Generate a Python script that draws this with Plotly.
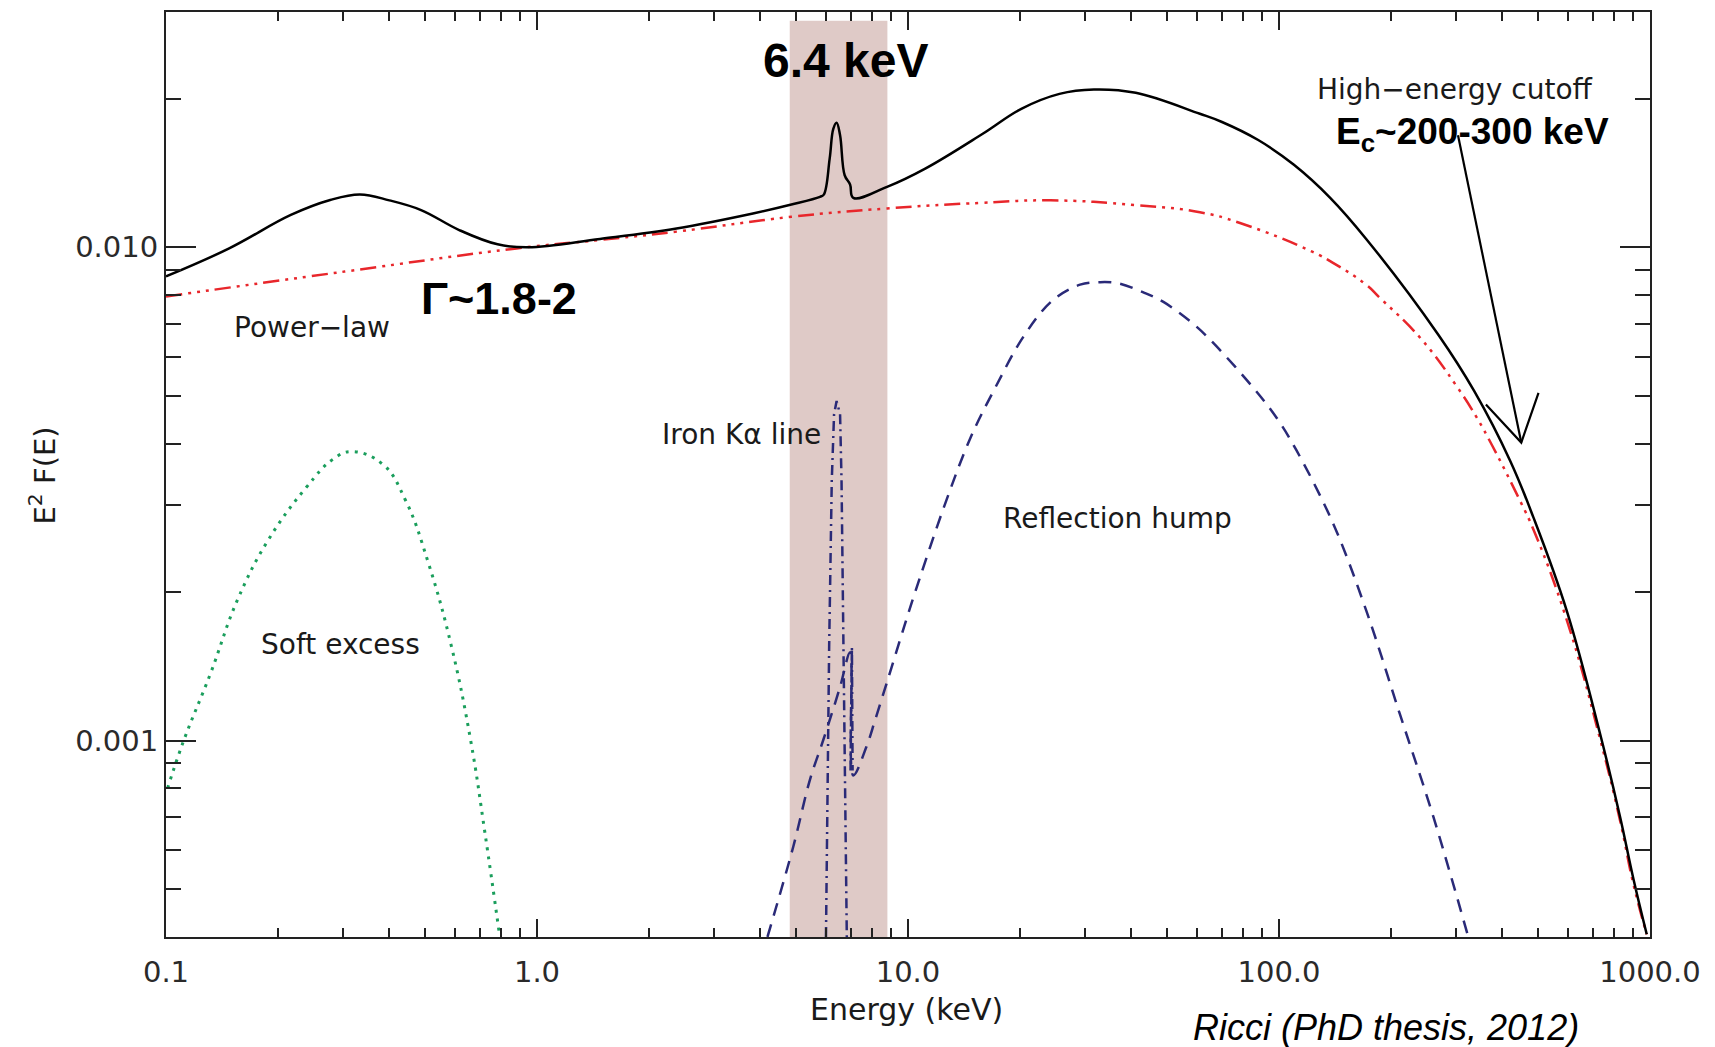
import plotly.graph_objects as go

# ---------------- data ----------------
energy_total = [0.1, 0.148, 0.217, 0.277, 0.333, 0.40, 0.487, 0.617, 0.783, 0.946, 1.478,
                2.377, 3.82, 4.85, 5.79, 5.93, 6.15, 6.29, 6.42, 6.56, 6.75, 6.98, 7.12,
                8.78, 11.13, 15.9, 20.2, 25.6, 31.7, 41.1, 61.2, 70.2, 87.9, 109.7, 137.4, 171.8,
                268.8, 336, 420, 485, 596, 733, 830, 902, 980]
flux_total = [0.00873, 0.00995, 0.01163, 0.01247, 0.01280, 0.01245, 0.01190, 0.01084, 0.01014,
              0.01000, 0.01040, 0.01092, 0.01171, 0.01221, 0.01266, 0.01279, 0.01513, 0.01739,
              0.01789, 0.01687, 0.01400, 0.01341, 0.01260, 0.01326, 0.01444, 0.01699, 0.01909,
              0.02047, 0.02089, 0.02057, 0.01865, 0.01795, 0.01650, 0.01470, 0.01260, 0.01040,
              0.00665, 0.00511, 0.00369, 0.002835, 0.001837, 0.001035, 0.000702, 0.000525, 0.000405]

energy_pl = [0.1, 0.303, 0.881, 1.478, 2.377, 4.85, 8.78, 15.9, 24.2, 41.1, 61.2, 78.5, 122.9,
             139.8, 171.8, 187, 240.4, 300.6, 341, 375.8, 449.6, 485, 596, 733, 830, 902, 980]
flux_pl = [0.00795, 0.00893, 0.00995, 0.01035, 0.01076, 0.01153, 0.01199, 0.01231, 0.01245,
           0.01218, 0.01178, 0.01120, 0.00980, 0.00930, 0.00840, 0.00790, 0.00655, 0.00524,
           0.00452, 0.00396, 0.00303, 0.00268, 0.00176, 0.00101, 0.00069, 0.000512, 0.000405]

energy_soft = [0.101, 0.1116, 0.1318, 0.1556, 0.1882, 0.2387, 0.2819, 0.316, 0.3838, 0.4428,
               0.5104, 0.5886, 0.6627, 0.724, 0.792]
flux_soft = [0.000801, 0.001, 0.001368, 0.001924, 0.002544, 0.003259, 0.00372, 0.003854,
             0.003634, 0.003064, 0.002283, 0.001548, 0.001, 0.00065, 0.000405]

energy_refl = [4.18, 4.91, 5.44, 5.91, 6.56, 6.98, 7.12, 7.73, 8.15, 8.76, 9.51, 10.28, 12.49,
               14.74, 17.2, 20.5, 24.5, 29.1, 33.0, 37.0, 43.1, 48.8, 58.7, 66.5, 85.3, 98.6,
               111.6, 140.1, 171.8, 211.9, 260.5, 323.8]
flux_refl = [0.0004, 0.000611, 0.000833, 0.001003, 0.001285, 0.001511, 0.00085, 0.000973,
             0.0011, 0.001308, 0.001597, 0.001924, 0.00297, 0.004112, 0.0052, 0.0066, 0.0078,
             0.0084, 0.0085, 0.00845, 0.0081, 0.00775, 0.0070, 0.0064, 0.00519, 0.00451,
             0.00387, 0.00275, 0.001837, 0.00113, 0.000702, 0.0004]

energy_fe = [6.01, 6.13, 6.23, 6.32, 6.42, 6.56, 6.62, 6.69, 6.84]
flux_fe = [0.0004, 0.00155, 0.00336, 0.00459, 0.00488, 0.00459, 0.00336, 0.00155, 0.0004]

energy_kb = [7.0, 7.06, 7.09]
flux_kb = [0.00087, 0.00155, 0.00087]

band_energy = [4.8, 8.8]
band_flux = [0.0004, 0.0288]

arrow_energy = [303.7, 449.8, None, 361.2, 449.8, 500.6]
arrow_flux = [0.01687, 0.00402, None, 0.0048, 0.00402, 0.00507]

x_tickvals = [0.1, 1, 10, 100, 1000]
x_ticktext = ["0.1", "1.0", "10.0", "100.0", "1000.0"]
x_minor = [m * d for d in [0.1, 1, 10, 100] for m in range(2, 10)]
y_tickvals = [0.001, 0.01]
y_ticktext = ["0.001", "0.010"]
y_minor = [0.0004, 0.0005, 0.0006, 0.0007, 0.0008, 0.0009] + \
          [m * 0.001 for m in range(2, 10)] + [0.02, 0.03]

# ---------------- figure ----------------
RED = "#e8262b"
NAVY = "#2a2a78"
GREEN = "#1a9e5c"
BAND = "#dfcac7"

fig = go.Figure()

fig.add_trace(go.Scatter(
    x=[band_energy[0], band_energy[1], band_energy[1], band_energy[0], band_energy[0]],
    y=[band_flux[0], band_flux[0], band_flux[1], band_flux[1], band_flux[0]],
    fill="toself", fillcolor=BAND, line=dict(width=0), mode="lines", hoverinfo="skip"))

fig.add_trace(go.Scatter(x=energy_soft, y=flux_soft, mode="lines",
                         line=dict(color=GREEN, width=3, dash="3px,6px", shape="spline", smoothing=1.2)))
fig.add_trace(go.Scatter(x=energy_refl, y=flux_refl, mode="lines",
                         line=dict(color=NAVY, width=2.5, dash="13px,9px", shape="spline", smoothing=1.0)))
fig.add_trace(go.Scatter(x=energy_fe, y=flux_fe, mode="lines",
                         line=dict(color=NAVY, width=2.5, dash="10px,5px,2px,5px")))
fig.add_trace(go.Scatter(x=energy_kb, y=flux_kb, mode="lines",
                         line=dict(color=NAVY, width=2.5, dash="10px,5px,2px,5px")))
fig.add_trace(go.Scatter(x=energy_pl, y=flux_pl, mode="lines",
                         line=dict(color=RED, width=2.5, dash="16px,6px,3px,6px,3px,6px,3px,6px",
                                   shape="spline", smoothing=1.3)))
fig.add_trace(go.Scatter(x=energy_total, y=flux_total, mode="lines",
                         line=dict(color="black", width=2.5, shape="spline", smoothing=1.1)))
fig.add_trace(go.Scatter(x=arrow_energy, y=arrow_flux, mode="lines",
                         line=dict(color="black", width=2.2), connectgaps=False))

AX = "#222222"
TICKFONT = dict(family="DejaVu Sans", size=29, color="#2a2a2a")

fig.update_xaxes(
    type="log", range=[-1, 3], showgrid=False, zeroline=False,
    showline=True, linecolor=AX, linewidth=2, mirror="allticks",
    ticks="inside", ticklen=18, tickwidth=2, tickcolor=AX,
    tickvals=x_tickvals, ticktext=x_ticktext, tickfont=TICKFONT, ticklabelstandoff=8,
    minor=dict(tickvals=x_minor, ticks="inside", ticklen=9, tickwidth=2, tickcolor=AX, showgrid=False),
)
fig.update_yaxes(
    type="log", range=[-3.398, -1.523], showgrid=False, zeroline=False,
    showline=True, linecolor=AX, linewidth=2, mirror="allticks",
    ticks="inside", ticklen=30, tickwidth=2, tickcolor=AX,
    tickvals=y_tickvals, ticktext=y_ticktext, tickfont=TICKFONT,
    minor=dict(tickvals=y_minor, ticks="inside", ticklen=15, tickwidth=2, tickcolor=AX, showgrid=False),
)

LABEL = dict(family="DejaVu Sans", size=28, color="#1a1a1a")
BOLD = "Liberation Sans"

def ann(text, x, y, font, angle=0):
    fig.add_annotation(text=text, x=x, y=y, xref="paper", yref="paper",
                       showarrow=False, xanchor="center", yanchor="middle",
                       font=font, textangle=angle)

ann("Power\u2212law", 0.0984, 0.659, LABEL)
ann("Soft excess", 0.1173, 0.316, LABEL)
ann("Iron K\u03b1 line", 0.3875, 0.5437, LABEL)
ann("Reflection hump", 0.641, 0.452, LABEL)
ann("High\u2212energy cutoff", 0.8686, 0.9159, LABEL)
ann("<b>6.4 keV</b>", 0.4579, 0.948, dict(family=BOLD, size=48, color="black"))
ann("<b>\u0393~1.8-2</b>", 0.2241, 0.6898, dict(family=BOLD, size=45, color="black"))
ann("<b>E<sub>c</sub>~200-300 keV</b>", 0.8807, 0.868, dict(family=BOLD, size=37, color="black"))
ann("<i>Ricci (PhD thesis, 2012)</i>", 0.822, -0.098, dict(family=BOLD, size=36, color="black"))
ann("Energy (keV)", 0.4993, -0.0787, dict(family="DejaVu Sans", size=30, color="#1a1a1a"))
ann("E<sup>2</sup> F(E)", -0.0836, 0.4989, dict(family="DejaVu Sans", size=29, color="#1a1a1a"), angle=-90)

fig.update_layout(
    width=1715, height=1047, showlegend=False,
    margin=dict(l=166, r=65, t=10, b=110),
    plot_bgcolor="white", paper_bgcolor="white",
)

fig.write_html("out.html")
